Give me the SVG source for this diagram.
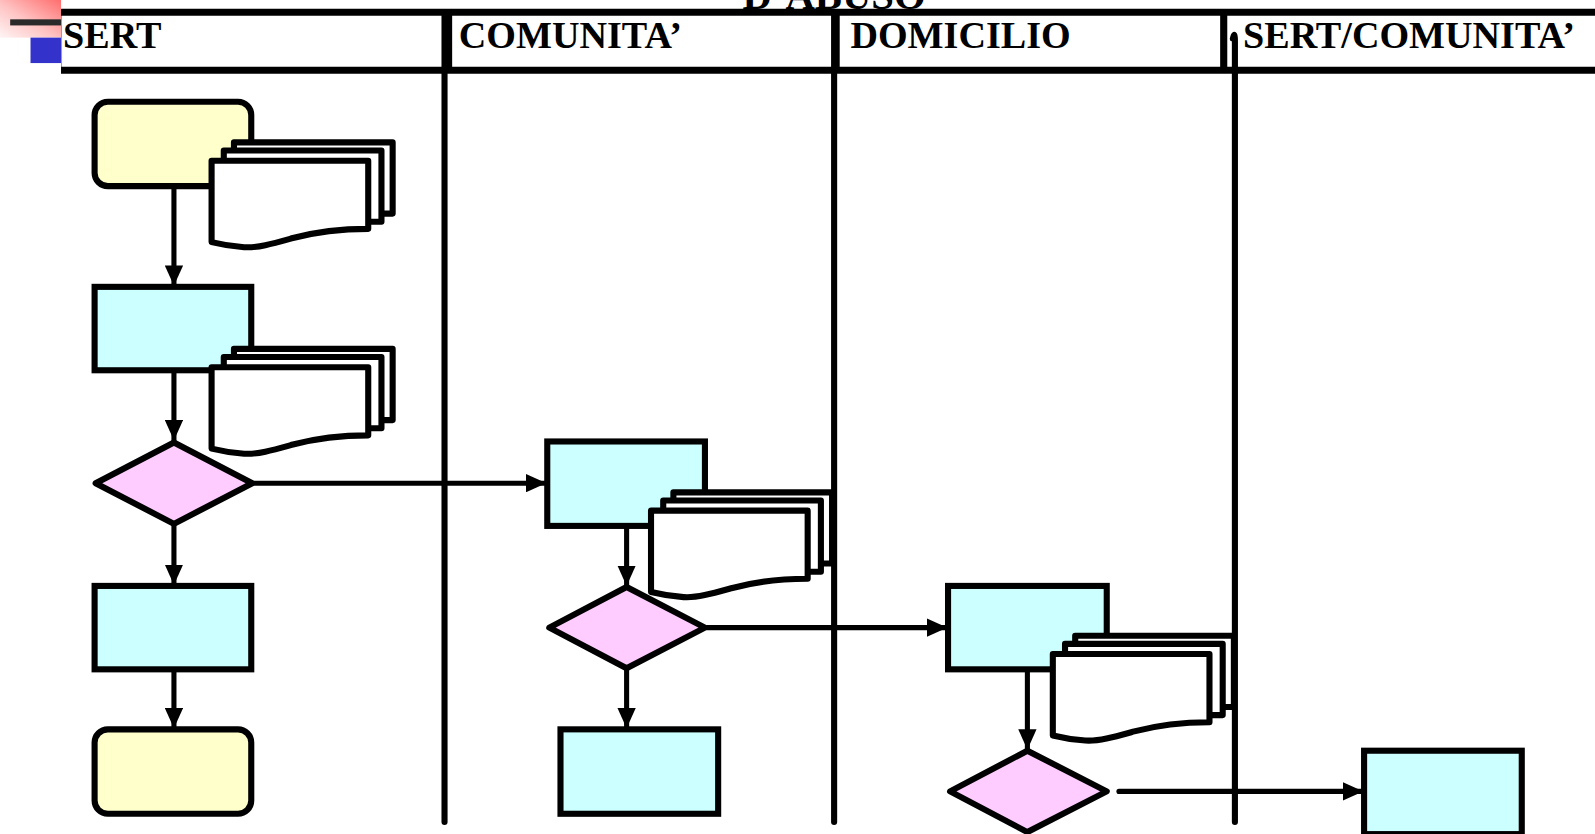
<svg xmlns="http://www.w3.org/2000/svg" width="1595" height="834" viewBox="0 0 1595 834">
<style>
.hdr{font-family:"Liberation Serif","Times New Roman",serif;font-weight:bold;font-size:37.5px;fill:#000}
.ttl{font-family:"Liberation Serif","Times New Roman",serif;font-weight:bold;font-size:40px;fill:#000}
.thick{stroke:#000;stroke-width:7;fill:none}
.lane{stroke:#000;stroke-width:6;fill:none;stroke-linecap:round}
.box{stroke:#000;stroke-width:6;stroke-linejoin:miter}
.term{fill:#FFFFCC;stroke:#000;stroke-width:6}
.proc{fill:#CCFFFF}
.dec{fill:#FFCCFF;stroke:#000;stroke-width:6;stroke-linejoin:round}
.doc{fill:#fff;stroke:#000;stroke-width:6;stroke-linejoin:round}
.con{stroke:#000;stroke-width:5;fill:none;stroke-linecap:round}
</style>
<defs>
<linearGradient id="pg" x1="1" y1="0" x2="0" y2="1">
<stop offset="0" stop-color="#FF6E6E"/>
<stop offset="0.55" stop-color="#FFC4C4"/>
<stop offset="1" stop-color="#FFF4F4"/>
</linearGradient>
<marker id="ah" viewBox="0 0 20 18" refX="20" refY="9" markerWidth="20" markerHeight="18" markerUnits="userSpaceOnUse" orient="auto">
<path d="M0,0 L20,9 L0,18 Z" fill="#000"/>
</marker>
<g id="docset">
<rect x="22" y="-18" width="156" height="70" class="doc"/>
<rect x="12" y="-10" width="155" height="70" class="doc"/>
<path class="doc" d="M0,0 H154 V67 C120,67 95,72 80,76 C62,81 45,86 32,85 C18,84 8,82 0,80 Z"/>
</g>
</defs>
<rect width="1595" height="834" fill="#fff"/>
<g transform="scale(1.01722)">
<g id="decoration">
<rect x="0" y="0" width="60" height="37" fill="url(#pg)"/>
<rect x="10" y="19" width="50" height="6" fill="#2a2a2a"/>
<rect x="30" y="37" width="30" height="25" fill="#3333CC"/>
</g>
<text class="ttl" x="730" y="9">D’ABUSO</text>
<g id="header">
<line x1="60.5" y1="10" x2="60.5" y2="72" stroke="#999" stroke-width="1"/>
<line x1="60" y1="12" x2="1595" y2="12" class="thick"/>
<line x1="60" y1="69" x2="1595" y2="69" class="thick"/>
<line x1="441" y1="12" x2="441" y2="69" class="thick" stroke-width="9"/>
<line x1="822" y1="12" x2="822" y2="69" class="thick" stroke-width="9"/>
<line x1="1203" y1="12" x2="1203" y2="69" class="thick" stroke-width="9"/>
<text class="hdr" x="62" y="47">SERT</text>
<text class="hdr" x="451" y="47">COMUNITA’</text>
<text class="hdr" x="836" y="47">DOMICILIO</text>
<text class="hdr" x="1222" y="47">SERT/COMUNITA’</text>
</g>
<g id="lanes">
<line x1="437" y1="14" x2="437" y2="808" class="lane"/>
<line x1="820" y1="14" x2="820" y2="808" class="lane"/>
<path d="M1212,38 Q1214,30 1214,40 V808" class="lane"/>
</g>
<g id="connectors">
<line x1="171" y1="183" x2="171" y2="281" class="con" marker-end="url(#ah)"/>
<line x1="171" y1="364" x2="171" y2="433" class="con" marker-end="url(#ah)"/>
<line x1="171" y1="516" x2="171" y2="575" class="con" marker-end="url(#ah)"/>
<line x1="171" y1="658" x2="171" y2="716" class="con" marker-end="url(#ah)"/>
<line x1="250" y1="475" x2="537" y2="475" class="con" stroke-width="4" marker-end="url(#ah)"/>
<line x1="616" y1="517" x2="616" y2="576" class="con" marker-end="url(#ah)"/>
<line x1="616" y1="658" x2="616" y2="716" class="con" marker-end="url(#ah)"/>
<line x1="695" y1="617" x2="931" y2="617" class="con" stroke-width="4" marker-end="url(#ah)"/>
<line x1="1010" y1="658" x2="1010" y2="737" class="con" marker-end="url(#ah)"/>
<line x1="1100" y1="778" x2="1340" y2="778" class="con" stroke-width="4" marker-end="url(#ah)"/>
</g>
<g id="n1"><rect x="93" y="100" width="154" height="83" rx="13" class="term"/></g>
<g id="d1"><use href="#docset" x="208" y="158"/></g>
<g id="n2"><rect x="93" y="282" width="154" height="82" class="box proc"/></g>
<g id="d2"><use href="#docset" x="208" y="361"/></g>
<g id="n3"><polygon points="94,475 171,435 248,475 171,515" class="dec"/></g>
<g id="n4"><rect x="93" y="576" width="154" height="82" class="box proc"/></g>
<g id="n5"><rect x="93" y="717" width="154" height="83" rx="13" class="term"/></g>
<g id="n6"><rect x="538" y="434" width="155" height="83" class="box proc"/></g>
<g id="d3"><use href="#docset" x="640" y="502"/></g>
<g id="n7"><polygon points="540,617 616,577 693,617 616,657" class="dec"/></g>
<g id="n8"><rect x="551" y="717" width="155" height="83" class="box proc"/></g>
<g id="n9"><rect x="932" y="576" width="156" height="82" class="box proc"/></g>
<g id="d4"><use href="#docset" x="1035" y="643"/></g>
<g id="n10"><polygon points="934,778 1010,738 1088,778 1010,818" class="dec"/></g>
<g id="n11"><rect x="1341" y="738" width="155" height="82" class="box proc"/></g>
</g>
</svg>
